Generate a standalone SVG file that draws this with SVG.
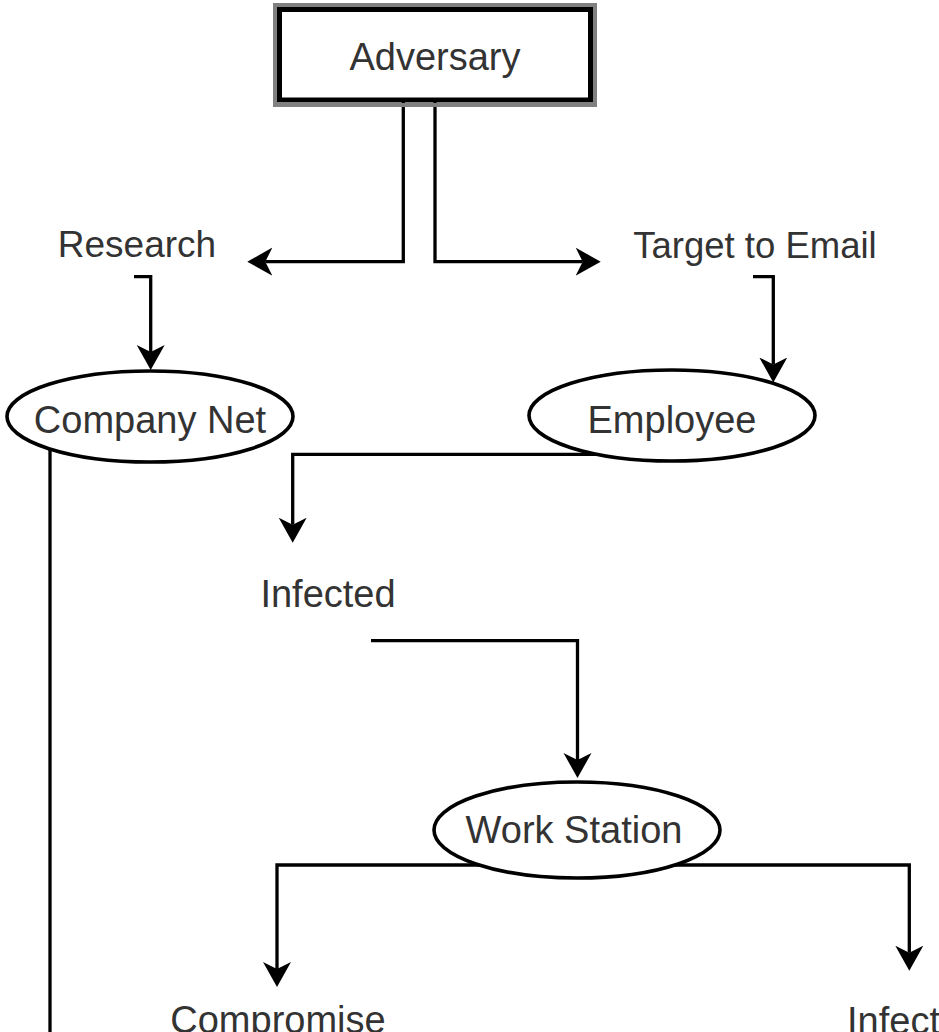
<svg xmlns="http://www.w3.org/2000/svg" width="939" height="1032" viewBox="0 0 939 1032">
<style>
  .edge { fill: none; stroke: #000; stroke-width: 3.3; stroke-linejoin: miter; marker-end: url(#arrow); }
  .plain { fill: none; stroke: #000; stroke-width: 3.3; }
  .ell { fill: #fff; stroke: #000; stroke-width: 3.6; }
  .lbl { font-family: "Liberation Sans", Arial, sans-serif; font-size: 38px; fill: #333; text-anchor: middle; }
</style>
<defs>
  <marker id="arrow" markerUnits="userSpaceOnUse" markerWidth="26" markerHeight="30" viewBox="0 0 26 30" refX="7" refY="14" orient="auto">
    <path d="M0,0 L25,14 L0,28 L7,14 Z" fill="#000"/>
  </marker>
</defs>
<rect width="939" height="1032" fill="#fff"/>
<g id="connectors">
  <path class="edge" d="M403.3,102 V261.7 H265.3"/>
  <path class="edge" d="M435,102 V261.7 H582.7"/>
  <path class="edge" d="M134,276.7 H150.7 V352"/>
  <path class="edge" d="M753,276.7 H773.3 V364.5"/>
  <path class="edge" d="M620,454.3 H292.7 V524.7"/>
  <path class="edge" d="M371,640.7 H577.5 V760"/>
  <path class="edge" d="M520,865 H277 V969"/>
  <path class="edge" d="M640,865 H909.3 V952.7"/>
  <path class="plain" d="M50,440 V1040"/>
</g>
<g id="adversary">
  <rect x="275" y="5" width="320" height="100" fill="none" stroke="#808080" stroke-width="4"/>
  <rect x="279.5" y="9.5" width="311" height="90.5" fill="#fff" stroke="#000" stroke-width="5"/>
  <text class="lbl" x="435" y="70">Adversary</text>
</g>
<g id="research">
  <text class="lbl" x="137" y="257" style="font-size:37px">Research</text>
</g>
<g id="target-to-email">
  <text class="lbl" x="755" y="258" style="font-size:36.5px">Target to Email</text>
</g>
<g id="company-net">
  <ellipse class="ell" cx="150" cy="416.5" rx="143" ry="45.5"/>
  <text class="lbl" x="150" y="433">Company Net</text>
</g>
<g id="employee">
  <ellipse class="ell" cx="672" cy="415.5" rx="143" ry="45.5"/>
  <text class="lbl" x="672" y="433">Employee</text>
</g>
<g id="infected">
  <text class="lbl" x="328" y="607">Infected</text>
</g>
<g id="work-station">
  <ellipse class="ell" cx="577" cy="830" rx="143" ry="48"/>
  <text class="lbl" x="574" y="843">Work Station</text>
</g>
<g id="compromise">
  <text class="lbl" x="278" y="1033">Compromise</text>
</g>
<g id="infect">
  <text class="lbl" x="847" y="1034" style="text-anchor:start">Infect</text>
</g>
</svg>
